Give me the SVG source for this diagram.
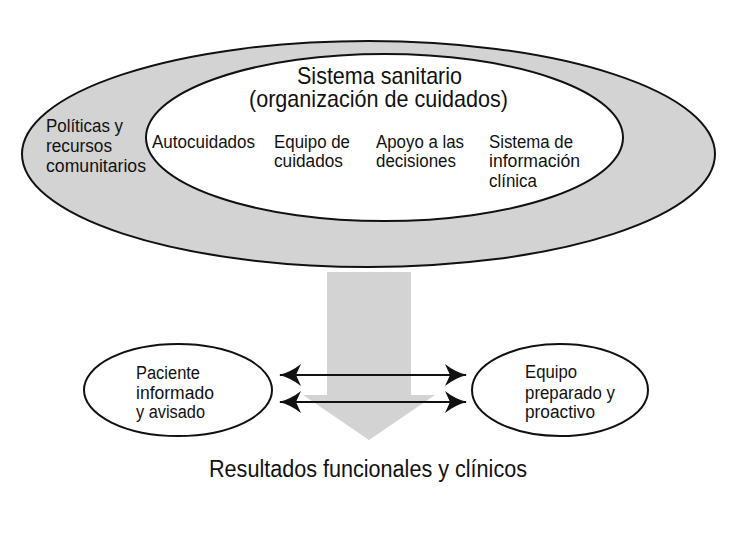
<svg xmlns="http://www.w3.org/2000/svg" width="730" height="539" viewBox="0 0 730 539">
<style>
text{font-family:"Liberation Sans",Arial,sans-serif;fill:#111;}
.s{font-size:17.5px;}
.m{font-size:18px;}
.l{font-size:24px;}
.b{font-size:23px;}
.ell{stroke:#111;stroke-width:2;}
.con{stroke:#111;stroke-width:2;fill:none;}
</style>
<defs>
<marker id="barb" viewBox="0 0 23 22" refX="22" refY="11" markerWidth="23" markerHeight="22" markerUnits="userSpaceOnUse" orient="auto-start-reverse">
<path d="M23,11 Q11,8 1,0 L6,11 L1,22 Q11,14 23,11 Z" fill="#111"/>
</marker>
</defs>
<rect width="730" height="539" fill="#fff"/>
<g id="politicas">
<ellipse class="ell" cx="368.5" cy="154" rx="346.5" ry="113" fill="#d3d3d3"/>
<text class="s" x="46" y="132" textLength="77" lengthAdjust="spacingAndGlyphs">Políticas y</text>
<text class="s" x="46" y="152" textLength="66" lengthAdjust="spacingAndGlyphs">recursos</text>
<text class="s" x="46" y="172" textLength="100" lengthAdjust="spacingAndGlyphs">comunitarios</text>
</g>
<g id="sistema">
<ellipse class="ell" cx="384.5" cy="137.5" rx="238.5" ry="83.5" fill="#fff"/>
<text class="l" x="297" y="84" textLength="165" lengthAdjust="spacingAndGlyphs">Sistema sanitario</text>
<text class="l" x="249" y="107" textLength="259" lengthAdjust="spacingAndGlyphs">(organización de cuidados)</text>
<text class="s" x="152" y="148" textLength="103" lengthAdjust="spacingAndGlyphs">Autocuidados</text>
<text class="s" x="274" y="148" textLength="76" lengthAdjust="spacingAndGlyphs">Equipo de</text>
<text class="s" x="274" y="167" textLength="69" lengthAdjust="spacingAndGlyphs">cuidados</text>
<text class="s" x="376" y="148" textLength="88" lengthAdjust="spacingAndGlyphs">Apoyo a las</text>
<text class="s" x="376" y="167" textLength="80" lengthAdjust="spacingAndGlyphs">decisiones</text>
<text class="s" x="489" y="148" textLength="84" lengthAdjust="spacingAndGlyphs">Sistema de</text>
<text class="s" x="489" y="167" textLength="91" lengthAdjust="spacingAndGlyphs">información</text>
<text class="s" x="489" y="187" textLength="48" lengthAdjust="spacingAndGlyphs">clínica</text>
</g>
<g id="flecha">
<polygon points="327,272 411,272 411,395 435,395 369,440 303,395 327,395" fill="#d3d3d3"/>
</g>
<g id="paciente">
<ellipse class="ell" cx="178" cy="390" rx="94" ry="46" fill="#fff"/>
<text class="m" x="136" y="379" textLength="64" lengthAdjust="spacingAndGlyphs">Paciente</text>
<text class="m" x="136" y="399" textLength="78" lengthAdjust="spacingAndGlyphs">informado</text>
<text class="m" x="136" y="418" textLength="69" lengthAdjust="spacingAndGlyphs">y avisado</text>
</g>
<g id="equipo">
<ellipse class="ell" cx="560" cy="390" rx="88" ry="46" fill="#fff"/>
<text class="m" x="525" y="378" textLength="52" lengthAdjust="spacingAndGlyphs">Equipo</text>
<text class="m" x="525" y="399" textLength="90" lengthAdjust="spacingAndGlyphs">preparado y</text>
<text class="m" x="525" y="418" textLength="70" lengthAdjust="spacingAndGlyphs">proactivo</text>
</g>
<g id="conectores">
<line class="con" x1="280" y1="375" x2="466" y2="375" marker-start="url(#barb)" marker-end="url(#barb)"/>
<line class="con" x1="280" y1="402" x2="466" y2="402" marker-start="url(#barb)" marker-end="url(#barb)"/>
</g>
<g id="resultados">
<text class="b" x="209" y="477" textLength="318" lengthAdjust="spacingAndGlyphs">Resultados funcionales y clínicos</text>
</g>
</svg>
